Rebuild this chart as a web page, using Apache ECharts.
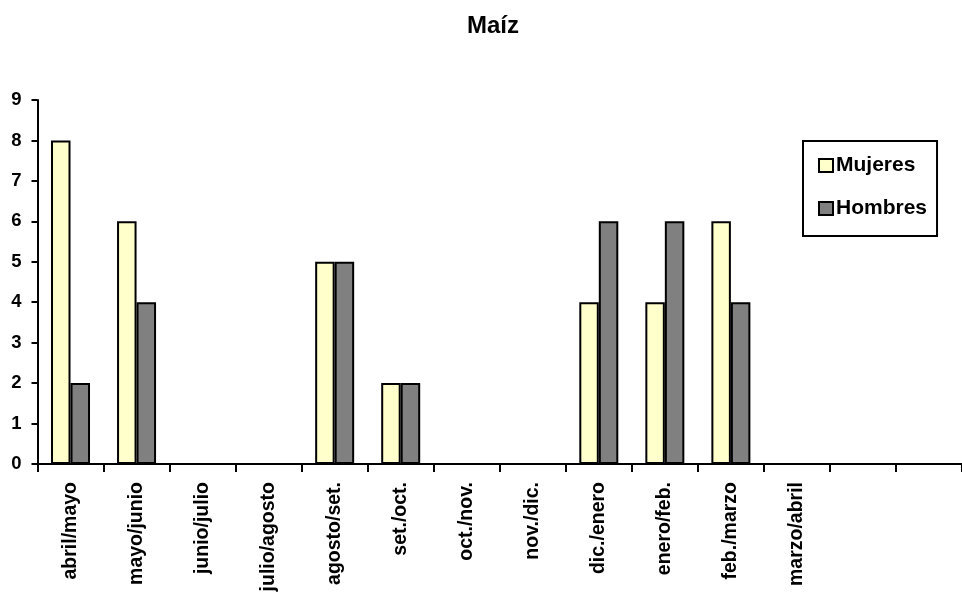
<!DOCTYPE html>
<html>
<head>
<meta charset="utf-8">
<script src="https://cdn.jsdelivr.net/npm/echarts@6/dist/echarts.min.js"></script>
<style>html,body{margin:0;padding:0;background:#fff}#c{width:962px;height:596px}</style>
</head>
<body>
<div id="c"></div>
<script>
var categories = ['abril/mayo','mayo/junio','junio/julio','julio/agosto','agosto/set.','set./oct.','oct./nov.','nov./dic.','dic./enero','enero/feb.','feb./marzo','marzo/abril','',''];
var mujeres = [8,6,0,0,5,2,0,0,4,4,6,0,0,0];
var hombres = [2,4,0,0,5,2,0,0,6,6,4,0,0,0];
var titleText = 'Maíz';
var seriesNames = ['Mujeres','Hombres'];

var font = 'Liberation Sans, Arial, sans-serif';
var chart = echarts.init(document.getElementById('c'), null, {renderer:'canvas'});
chart.setOption({
  animation: false,
  backgroundColor: '#fff',
  title: {
    text: titleText,
    left: 462, top: 9,
    textStyle: {fontFamily: font, fontWeight: 'bold', fontSize: 24, color: '#000'}
  },
  legend: {
    orient: 'vertical',
    left: 803, top: 141,
    padding: [14, 10, 17, 15],
    itemGap: 22,
    itemWidth: 14, itemHeight: 13,
    icon: 'rect',
    borderColor: '#000', borderWidth: 2,
    textStyle: {fontFamily: font, fontWeight: 'bold', fontSize: 21, color: '#000', padding: [0,0,0,-2]},
    data: seriesNames
  },
  grid: {left: 37.5, top: 100, width: 930, bottom: 132, containLabel: false},
  xAxis: {
    type: 'category',
    data: categories,
    axisLine: {lineStyle: {color: '#000', width: 2}},
    axisTick: {show: true, interval: 0, length: 8, lineStyle: {color: '#000', width: 2}, alignWithLabel: false},
    axisLabel: {rotate: 90, margin: 18, interval: 0, fontFamily: font, fontWeight: 'bold', fontSize: 19.5, color: '#000'},
    splitLine: {show: false}
  },
  yAxis: {
    type: 'value',
    min: 0, max: 9, interval: 1,
    axisLine: {show: true, lineStyle: {color: '#000', width: 2}},
    axisTick: {show: true, length: 6, lineStyle: {color: '#000', width: 2}},
    axisLabel: {margin: 16, fontFamily: font, fontWeight: 'bold', fontSize: 18.5, color: '#000'},
    splitLine: {show: false}
  },
  series: [
    {name: seriesNames[0], type: 'bar', data: mujeres, barWidth: 19.5, barGap: '0%',
     itemStyle: {color: '#FFFFCC', borderColor: '#000', borderWidth: 2}},
    {name: seriesNames[1], type: 'bar', data: hombres, barWidth: 19.5, barGap: '0%',
     itemStyle: {color: '#808080', borderColor: '#000', borderWidth: 2}}
  ]
});
</script>
</body>
</html>
